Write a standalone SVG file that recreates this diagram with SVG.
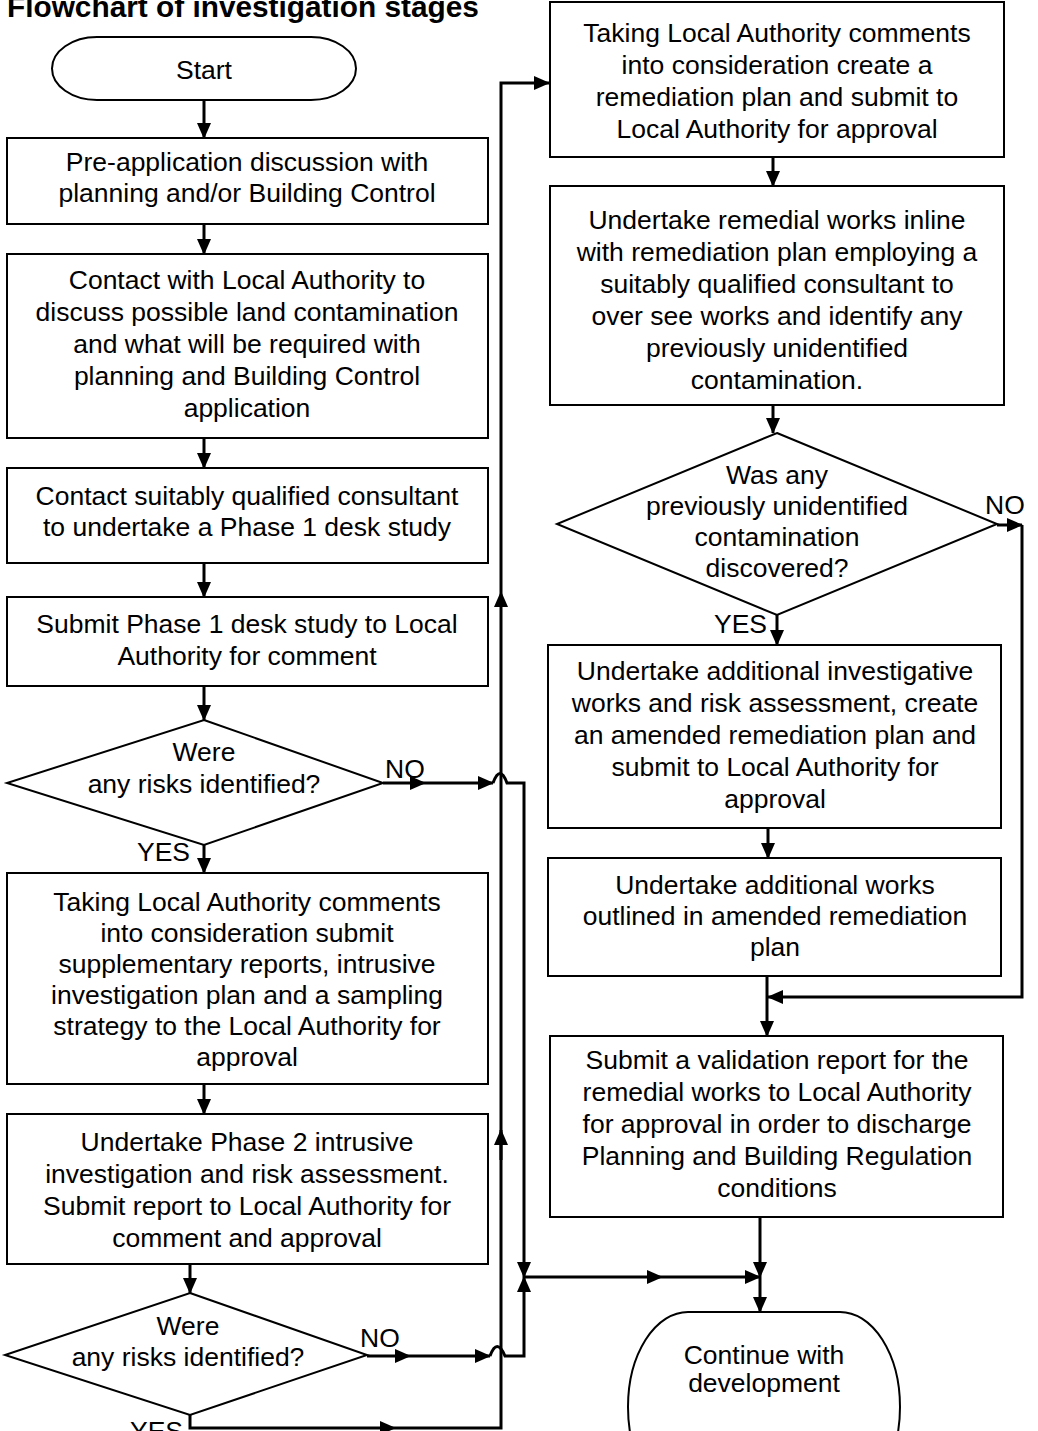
<svg xmlns="http://www.w3.org/2000/svg" width="1038" height="1431" viewBox="0 0 1038 1431">
<defs>
<style>
.n{fill:#fff;stroke:#000;stroke-width:2}
.t{font-family:"Liberation Sans",Arial,sans-serif;font-size:26.5px;fill:#000;text-anchor:middle}
.l{font-family:"Liberation Sans",Arial,sans-serif;font-size:26.5px;fill:#000}
.c{fill:none;stroke:#000;stroke-width:3}
</style>
<marker id="a" markerUnits="userSpaceOnUse" markerWidth="16" markerHeight="14" refX="15" refY="7" orient="auto">
<path d="M0,0 L16,7 L0,14 Z" fill="#000"/>
</marker>
</defs>
<rect width="1038" height="1431" fill="#fff"/>
<text x="7" y="17" style="font-family:'Liberation Sans',Arial,sans-serif;font-size:29.8px;font-weight:bold">Flowchart of investigation stages</text>

<g id="connectors">
<line class="c" x1="204" y1="100" x2="204" y2="138" marker-end="url(#a)"/>
<line class="c" x1="204" y1="224" x2="204" y2="254" marker-end="url(#a)"/>
<line class="c" x1="204" y1="438" x2="204" y2="468" marker-end="url(#a)"/>
<line class="c" x1="204" y1="563" x2="204" y2="597" marker-end="url(#a)"/>
<line class="c" x1="204" y1="686" x2="204" y2="720" marker-end="url(#a)"/>
<line class="c" x1="204" y1="845" x2="204" y2="873" marker-end="url(#a)"/>
<line class="c" x1="204" y1="1084" x2="204" y2="1114" marker-end="url(#a)"/>
<line class="c" x1="190" y1="1264" x2="190" y2="1293" marker-end="url(#a)"/>
<!-- NO 1 -->
<line class="c" x1="383" y1="783" x2="425" y2="783" marker-end="url(#a)"/>
<line class="c" x1="425" y1="783" x2="493" y2="783" marker-end="url(#a)"/>
<path class="c" d="M493,783 Q500,764 507,783 L524,783 L524,1277" marker-end="url(#a)"/>
<!-- NO 2 -->
<line class="c" x1="367" y1="1356" x2="410" y2="1356" marker-end="url(#a)"/>
<line class="c" x1="410" y1="1356" x2="490" y2="1356" marker-end="url(#a)"/>
<path class="c" d="M490,1356 Q497,1337 505,1356 L524,1356 L524,1277" marker-end="url(#a)"/>
<!-- YES 2 -->
<polyline class="c" points="190,1415 190,1428 395,1428" marker-end="url(#a)"/>
<polyline class="c" points="395,1428 501,1428 501,592" marker-end="url(#a)"/>
<line class="c" x1="501" y1="1160" x2="501" y2="1130" marker-end="url(#a)"/>
<polyline class="c" points="501,592 501,83 549,83" marker-end="url(#a)"/>
<!-- merge -->
<line class="c" x1="524" y1="1277" x2="662" y2="1277" marker-end="url(#a)"/>
<line class="c" x1="662" y1="1277" x2="760" y2="1277" marker-end="url(#a)"/>
<line class="c" x1="760" y1="1217" x2="760" y2="1277" marker-end="url(#a)"/>
<line class="c" x1="760" y1="1277" x2="760" y2="1312" marker-end="url(#a)"/>
<!-- right column -->
<line class="c" x1="773" y1="157" x2="773" y2="186" marker-end="url(#a)"/>
<line class="c" x1="773" y1="405" x2="773" y2="433" marker-end="url(#a)"/>
<line class="c" x1="777" y1="615" x2="777" y2="645" marker-end="url(#a)"/>
<line class="c" x1="768" y1="828" x2="768" y2="858" marker-end="url(#a)"/>
<line class="c" x1="767" y1="976" x2="767" y2="1036" marker-end="url(#a)"/>
<line class="c" x1="997" y1="525" x2="1022" y2="525" marker-end="url(#a)"/>
<polyline class="c" points="1022,525 1022,997 768,997" marker-end="url(#a)"/>
</g>

<g id="start"><rect class="n" x="52" y="37" width="304" height="63" rx="45" ry="31.5"/><text class="t" x="204" y="79">Start</text></g>
<g id="preapp"><rect class="n" x="7" y="138" width="481" height="86"/><text class="t" x="247" y="171">Pre-application discussion with</text><text class="t" x="247" y="202">planning and/or Building Control</text></g>
<g id="contactLA"><rect class="n" x="7" y="254" width="481" height="184"/>
<text class="t" x="247" y="289">Contact with Local Authority to</text>
<text class="t" x="247" y="321">discuss possible land contamination</text>
<text class="t" x="247" y="353">and what will be required with</text>
<text class="t" x="247" y="385">planning and Building Control</text>
<text class="t" x="247" y="417">application</text></g>
<g id="consultant"><rect class="n" x="7" y="468" width="481" height="95"/>
<text class="t" x="247" y="505">Contact suitably qualified consultant</text>
<text class="t" x="247" y="536">to undertake a Phase 1 desk study</text></g>
<g id="phase1"><rect class="n" x="7" y="597" width="481" height="89"/>
<text class="t" x="247" y="633">Submit Phase 1 desk study to Local</text>
<text class="t" x="247" y="665">Authority for comment</text></g>
<g id="risk1"><polygon class="n" points="204,720 383,783 204,845 7,783"/>
<text class="t" x="204" y="761">Were</text>
<text class="t" x="204" y="793">any risks identified?</text>
<text class="l" x="385" y="778">NO</text>
<text class="l" x="137" y="861">YES</text></g>
<g id="supplementary"><rect class="n" x="7" y="873" width="481" height="211"/>
<text class="t" x="247" y="911">Taking Local Authority comments</text>
<text class="t" x="247" y="942">into consideration submit</text>
<text class="t" x="247" y="973">supplementary reports, intrusive</text>
<text class="t" x="247" y="1004">investigation plan and a sampling</text>
<text class="t" x="247" y="1035">strategy to the Local Authority for</text>
<text class="t" x="247" y="1066">approval</text></g>
<g id="phase2"><rect class="n" x="7" y="1114" width="481" height="150"/>
<text class="t" x="247" y="1151">Undertake Phase 2 intrusive</text>
<text class="t" x="247" y="1183">investigation and risk assessment.</text>
<text class="t" x="247" y="1215">Submit report to Local Authority for</text>
<text class="t" x="247" y="1247">comment and approval</text></g>
<g id="risk2"><polygon class="n" points="190,1293 367,1355 190,1415 5,1355"/>
<text class="t" x="188" y="1335">Were</text>
<text class="t" x="188" y="1366">any risks identified?</text>
<text class="l" x="360" y="1347">NO</text>
<text class="l" x="130" y="1440">YES</text></g>

<g id="remplan"><rect class="n" x="550" y="2" width="454" height="155"/>
<text class="t" x="777" y="42">Taking Local Authority comments</text>
<text class="t" x="777" y="74">into consideration create a</text>
<text class="t" x="777" y="106">remediation plan and submit to</text>
<text class="t" x="777" y="138">Local Authority for approval</text></g>
<g id="remworks"><rect class="n" x="550" y="186" width="454" height="219"/>
<text class="t" x="777" y="229">Undertake remedial works inline</text>
<text class="t" x="777" y="261">with remediation plan employing a</text>
<text class="t" x="777" y="293">suitably qualified consultant to</text>
<text class="t" x="777" y="325">over see works and identify any</text>
<text class="t" x="777" y="357">previously unidentified</text>
<text class="t" x="777" y="389">contamination.</text></g>
<g id="found"><polygon class="n" points="777,433 997,524 777,615 557,524"/>
<text class="t" x="777" y="484">Was any</text>
<text class="t" x="777" y="515">previously unidentified</text>
<text class="t" x="777" y="546">contamination</text>
<text class="t" x="777" y="577">discovered?</text>
<text class="l" x="985" y="514">NO</text>
<text class="l" x="767" y="633" text-anchor="end">YES</text></g>
<g id="additional"><rect class="n" x="548" y="645" width="453" height="183"/>
<text class="t" x="775" y="680">Undertake additional investigative</text>
<text class="t" x="775" y="712">works and risk assessment, create</text>
<text class="t" x="775" y="744">an amended remediation plan and</text>
<text class="t" x="775" y="776">submit to Local Authority for</text>
<text class="t" x="775" y="808">approval</text></g>
<g id="addworks"><rect class="n" x="548" y="858" width="453" height="118"/>
<text class="t" x="775" y="894">Undertake additional works</text>
<text class="t" x="775" y="925">outlined in amended remediation</text>
<text class="t" x="775" y="956">plan</text></g>
<g id="validation"><rect class="n" x="550" y="1036" width="453" height="181"/>
<text class="t" x="777" y="1069">Submit a validation report for the</text>
<text class="t" x="777" y="1101">remedial works to Local Authority</text>
<text class="t" x="777" y="1133">for approval in order to discharge</text>
<text class="t" x="777" y="1165">Planning and Building Regulation</text>
<text class="t" x="777" y="1197">conditions</text></g>
<g id="continue"><rect class="n" x="628" y="1312" width="272" height="190" rx="60" ry="95"/>
<text class="t" x="764" y="1364">Continue with</text>
<text class="t" x="764" y="1392">development</text></g>
</svg>
